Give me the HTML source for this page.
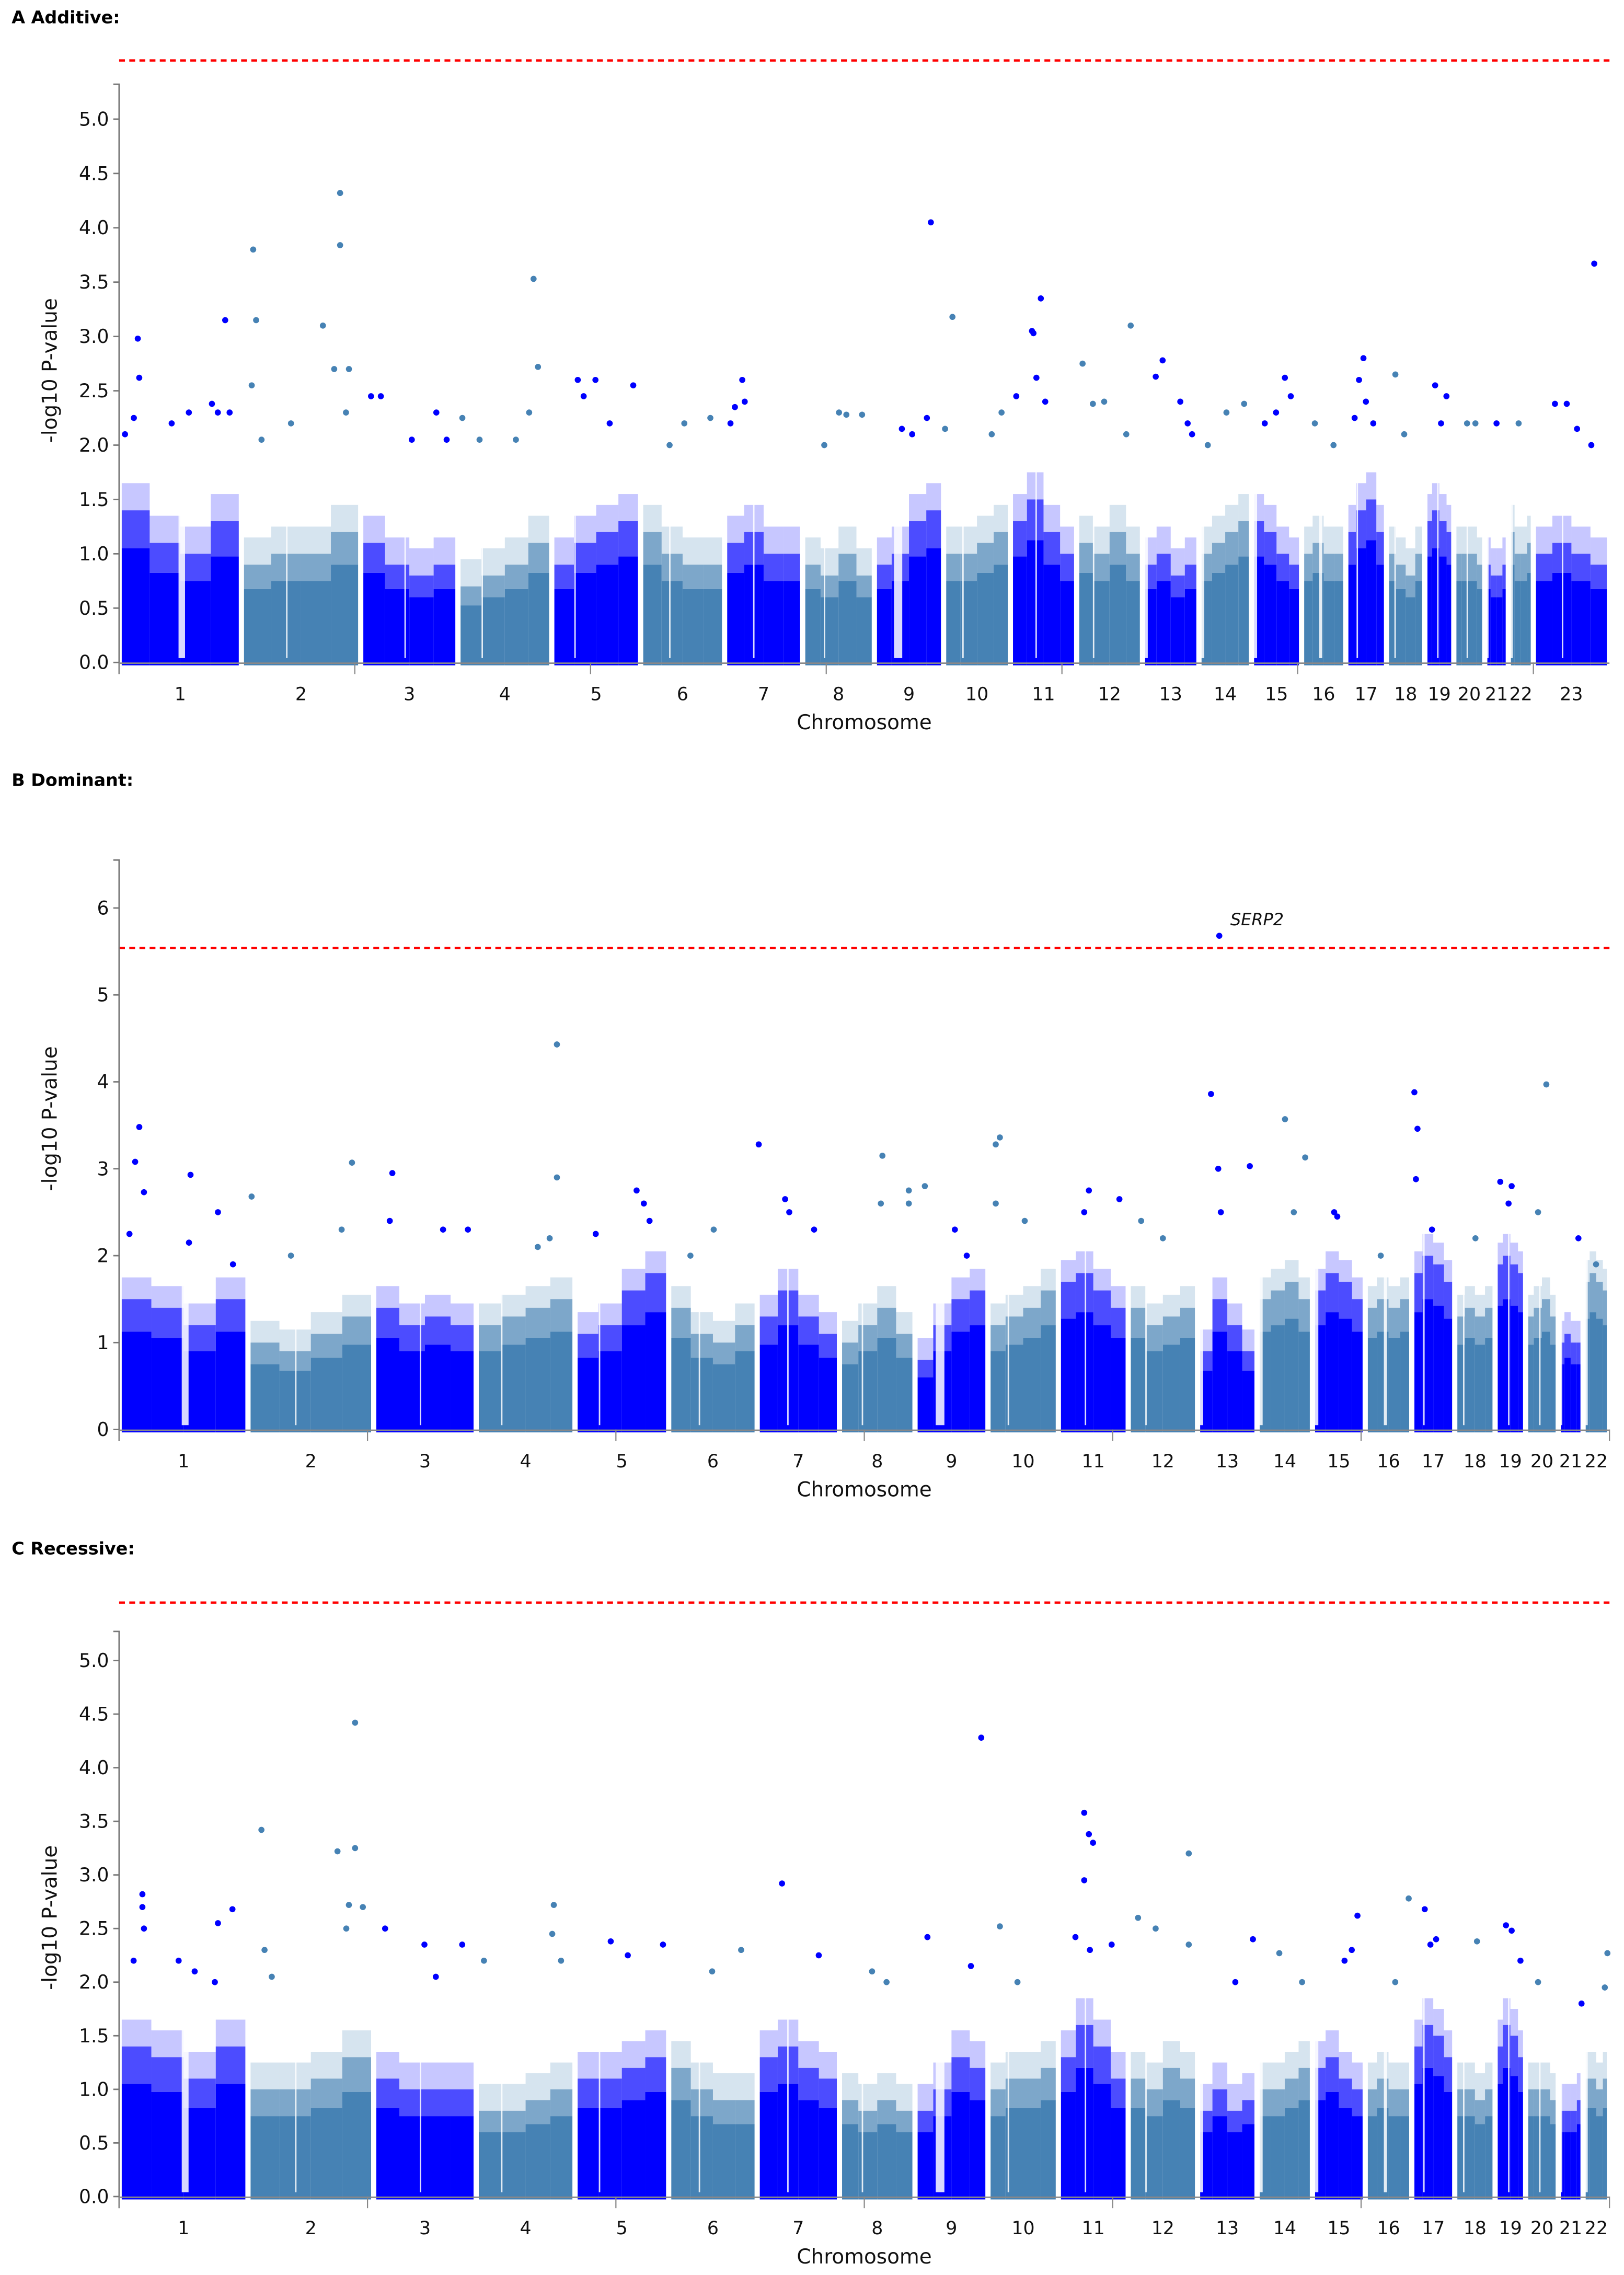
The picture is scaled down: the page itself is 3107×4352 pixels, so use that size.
<!DOCTYPE html>
<html><head><meta charset="utf-8">
<style>
html,body{margin:0;padding:0;background:#fff;}
svg{display:block;}
text{font-family:"DejaVu Sans","Liberation Sans",sans-serif;}
</style></head>
<body>
<svg id="fig" xmlns="http://www.w3.org/2000/svg" width="3107" height="4352" viewBox="0 0 1118 1566">
<rect x="0" y="0" width="1118" height="1566" fill="#fff"/>
</svg>
<script>
// ---------- data ----------
const chromNames = ["1","2","3","4","5","6","7","8","9","10","11","12","13","14","15","16","17","18","19","20","21","22","23"];
const chromLengths = [249,243,198,191,181,171,159,146,141,136,135,134,115,107,102,90,83,78,59,63,48,51,155];
const chromGaps = [[121,143],[91,95],[89,93],[48,52],[46,50],[58,62],[58,62],[43,47],[40,68],[38,42],[51,55],[33,37],[0,18],[0,18],[0,19],[36,46],[22,26],[16,20],[25,29],[26,30],[0,13],[0,15],[58,62]];

const bandsA = [[1.4,1.1,1.0,1.3],[0.9,1.0,1.0,1.2],[1.1,0.9,0.8,0.9],[0.7,0.8,0.9,1.1],[0.9,1.1,1.2,1.3],[1.2,1.0,0.9,0.9],[1.1,1.2,1.0,1.0],[0.9,0.8,1.0,0.8],[0.9,1.0,1.3,1.4],[1.0,1.0,1.1,1.2],[1.3,1.5,1.2,1.0],[1.1,1.0,1.2,1.0],[0.9,1.0,0.8,0.9],[1.0,1.1,1.2,1.3],[1.3,1.2,1.0,0.9],[1.0,1.1,1.0,1.0],[1.2,1.4,1.5,1.2],[1.0,0.9,0.8,1.0],[1.3,1.4,1.3,1.2],[1.0,1.0,1.0,0.9],[0.9,0.8,0.8,0.9],[1.2,1.0,1.0,1.1],[1.0,1.1,1.0,0.9]];
const bandsB = [[1.5,1.4,1.2,1.5],[1.0,0.9,1.1,1.3],[1.4,1.2,1.3,1.2],[1.2,1.3,1.4,1.5],[1.1,1.2,1.6,1.8],[1.4,1.1,1.0,1.2],[1.3,1.6,1.3,1.1],[1.0,1.2,1.4,1.1],[0.8,1.2,1.5,1.6],[1.2,1.3,1.4,1.6],[1.7,1.8,1.6,1.4],[1.4,1.2,1.3,1.4],[0.9,1.5,1.2,0.9],[1.5,1.6,1.7,1.5],[1.6,1.8,1.7,1.5],[1.4,1.5,1.4,1.5],[1.8,2.0,1.9,1.7],[1.3,1.4,1.3,1.4],[1.9,2.0,1.9,1.8],[1.3,1.4,1.5,1.3],[1.0,1.1,1.0,1.0],[1.7,1.8,1.7,1.6]];
const bandsC = [[1.4,1.3,1.1,1.4],[1.0,1.0,1.1,1.3],[1.1,1.0,1.0,1.0],[0.8,0.8,0.9,1.0],[1.1,1.1,1.2,1.3],[1.2,1.0,0.9,0.9],[1.3,1.4,1.2,1.1],[0.9,0.8,0.9,0.8],[0.8,1.0,1.3,1.2],[1.0,1.1,1.1,1.2],[1.3,1.6,1.4,1.1],[1.1,1.0,1.2,1.1],[0.8,1.0,0.8,0.9],[1.0,1.0,1.1,1.2],[1.2,1.3,1.1,1.0],[1.0,1.1,1.0,1.0],[1.4,1.6,1.5,1.3],[1.0,1.0,0.9,1.0],[1.4,1.6,1.5,1.3],[1.0,1.0,1.0,0.9],[0.8,0.8,0.8,0.9],[1.1,1.1,1.0,1.1]];

// hits: [chromosome index (0-based), position Mb, -log10 p]
const hitsA = [[0,38,2.98],[0,41,2.62],[0,30,2.25],[0,12,2.1],[0,107,2.2],[0,142,2.3],[0,189,2.38],[0,201,2.3],[0,216,3.15],[0,225,2.3],
[1,24,3.8],[1,30,3.15],[1,21,2.55],[1,41,2.05],[1,101,2.2],[1,166,3.1],[1,189,2.7],[1,201,4.32],[1,201,3.84],[1,213,2.3],[1,219,2.7],
[2,21,2.45],[2,41,2.45],[2,104,2.05],[2,154,2.3],[2,175,2.05],
[3,9,2.25],[3,44,2.05],[3,118,2.05],[3,145,2.3],[3,154,3.53],[3,163,2.72],
[4,53,2.6],[4,65,2.45],[4,89,2.6],[4,118,2.2],[4,166,2.55],
[5,59,2.0],[5,89,2.2],[5,142,2.25],
[6,12,2.2],[6,21,2.35],[6,36,2.6],[6,41,2.4],
[7,44,2.0],[7,74,2.3],[7,89,2.28],[7,121,2.28],
[8,56,2.15],[8,77,2.1],[8,107,2.25],[8,115,4.05],
[9,3,2.15],[9,18,3.18],[9,98,2.1],[9,118,2.3],
[10,12,2.45],[10,44,3.05],[10,47,3.03],[10,53,2.62],[10,62,3.35],[10,71,2.4],
[11,12,2.75],[11,33,2.38],[11,56,2.4],[11,101,2.1],[11,110,3.1],
[12,27,2.63],[12,41,2.78],[12,77,2.4],[12,92,2.2],[12,101,2.1],
[13,18,2.0],[13,56,2.3],[13,92,2.38],
[14,27,2.2],[14,50,2.3],[14,68,2.62],[14,80,2.45],
[15,27,2.2],[15,65,2.0],
[16,18,2.25],[16,27,2.6],[16,36,2.8],[16,41,2.4],[16,56,2.2],
[17,18,2.65],[17,36,2.1],
[18,21,2.55],[18,33,2.2],[18,44,2.45],
[19,27,2.2],[19,44,2.2],[20,24,2.2],[21,21,2.2],
[22,44,2.38],[22,68,2.38],[22,89,2.15],[22,118,2.0],[22,124,3.67]];
const hitsB = [[0,39,3.48],[0,31,3.08],[0,48,2.73],[0,20,2.25],[0,138,2.93],[0,191,2.5],[0,135,2.15],[0,220,1.9],
[1,7,2.68],[1,201,3.07],[1,181,2.3],[1,83,2.0],
[2,36,2.95],[2,31,2.4],[2,134,2.3],[2,182,2.3],
[3,156,4.43],[3,156,2.9],[3,142,2.2],[3,119,2.1],
[4,119,2.75],[4,133,2.6],[4,144,2.4],[4,40,2.25],
[5,87,2.3],[5,42,2.0],
[6,3,3.28],[6,54,2.65],[6,62,2.5],[6,110,2.3],
[7,83,3.15],[7,80,2.6],[7,134,2.75],[7,134,2.6],[7,165,2.8],
[8,77,2.3],[8,100,2.0],
[9,15,3.28],[9,23,3.36],[9,15,2.6],[9,71,2.4],
[10,59,2.75],[10,50,2.5],[10,118,2.65],
[11,25,2.4],[11,67,2.2],
[12,26,3.86],[12,42,5.68],[12,40,3.0],[12,45,2.5],[12,101,3.03],
[13,54,3.57],[13,93,3.13],[13,71,2.5],
[14,42,2.5],[14,48,2.45],
[15,30,2.0],
[16,5,3.88],[16,11,3.46],[16,8,2.88],[16,39,2.3],
[17,40,2.2],
[18,10,2.85],[18,32,2.8],[18,26,2.6],
[19,40,3.97],[19,24,2.5],
[20,39,2.2],[21,25,1.9]];
const hitsC = [[0,45,2.82],[0,45,2.7],[0,48,2.5],[0,28,2.2],[0,115,2.2],[0,146,2.1],[0,191,2.55],[0,219,2.68],[0,185,2.0],
[1,26,3.42],[1,32,2.3],[1,46,2.05],[1,173,3.22],[1,207,4.42],[1,207,3.25],[1,195,2.72],[1,190,2.5],[1,222,2.7],
[2,22,2.5],[2,98,2.35],[2,171,2.35],[2,120,2.05],
[3,15,2.2],[3,150,2.72],[3,147,2.45],[3,164,2.2],
[4,69,2.38],[4,102,2.25],[4,170,2.35],
[5,140,2.3],[5,84,2.1],
[6,48,2.92],[6,119,2.25],
[7,63,2.1],[7,91,2.0],
[8,24,2.42],[8,128,4.28],[8,108,2.15],
[9,23,2.52],[9,57,2.0],
[10,50,3.58],[10,59,3.38],[10,67,3.3],[10,50,2.95],[10,33,2.42],[10,61,2.3],[10,103,2.35],
[11,19,2.6],[11,53,2.5],[11,117,3.2],[11,117,2.35],
[12,107,2.4],[12,73,2.0],
[13,43,2.27],[13,87,2.0],
[14,87,2.62],[14,76,2.3],[14,62,2.2],
[15,84,2.78],[15,58,2.0],
[16,25,2.68],[16,47,2.4],[16,36,2.35],
[17,43,2.38],
[18,21,2.53],[18,32,2.48],[18,49,2.2],
[19,24,2.0],[20,45,1.8],[21,47,2.27],[21,42,1.95]];

const ticksA = [0,0.5,1,1.5,2,2.5,3,3.5,4,4.5,5];
const ticksB = [0,1,2,3,4,5,6];
const ticksC = [0,0.5,1,1.5,2,2.5,3,3.5,4,4.5,5];
const xMinorTicksMb = [0,480,960,1440,1920,2400,2880];
const thresholdValue = 5.54;

// ---------- drawing ----------
const NS = "http://www.w3.org/2000/svg";
const svg = document.getElementById("fig");
function mk(tag, attrs, parent){
  const e = document.createElementNS(NS, tag);
  for (const k in attrs) e.setAttribute(k, attrs[k]);
  (parent||svg).appendChild(e);
  return e;
}
const panels = [
  {key:"additive", letter:"A", title:"Additive:", titleY:16, y0:456, unit:74.8, axisTop:58, nChr:23, bands:bandsA, hits:hitsA, ticks:ticksA, dec:1, labY:482, chrTitleY:502, yTitleY:255, x0:82, x1:1108},
  {key:"dominant", letter:"B", title:"Dominant:", titleY:541, y0:984, unit:59.83, axisTop:592, nChr:22, bands:bandsB, hits:hitsB, ticks:ticksB, dec:0, labY:1010, chrTitleY:1030, yTitleY:770, x0:82, x1:1108},
  {key:"recessive", letter:"C", title:"Recessive:", titleY:1070, y0:1512, unit:73.8, axisTop:1123, nChr:22, bands:bandsC, hits:hitsC, ticks:ticksC, dec:1, labY:1538, chrTitleY:1558, yTitleY:1320, x0:82, x1:1108}
];
const BLUE = "#0000ff", STEEL = "#4682b4";

panels.forEach(p => {
  const g = mk("g", {});
  
  
  const lens = chromLengths.slice(0, p.nChr);
  const total = lens.reduce((a,b)=>a+b,0);
  const starts = []; let c = 0; lens.forEach(l => { starts.push(c); c += l; });
  const xs = mb => p.x0 + (mb / total) * (p.x1 - p.x0);
  const ys = v => p.y0 - v * p.unit;

  const t = mk("text", {x:8, y:p.titleY, "font-size":12, "font-weight":"bold", fill:"#000"}, g);
  t.textContent = p.letter + "   " + p.title;
  
  

  // dense bands
  for (let i = 0; i < p.nChr; i++) {
    const col = (i % 2 === 0) ? BLUE : STEEL;
    const cg = mk("g", {fill: col}, g);
    
    
    const seg = lens[i] / 4;
    for (let s = 0; s < 4; s++) {
      const a = starts[i] + seg * s, b = a + seg;
      let xa = xs(a), xb = xs(b);
      if (s === 0) xa += 1.8;
      if (s === 3) xb -= 1.8;
      const v = p.bands[i][s];
      const w = Math.max(0, xb - xa);
      const halo = mk("rect", {x:xa, y:ys(v + 0.25), width:w, height:0.25*p.unit, opacity:0.22}, cg);
      
      
      const mid = mk("rect", {x:xa, y:ys(v), width:w, height:0.25*v*p.unit, opacity:0.7}, cg);
      
      
      const top = ys(v * 0.75);
      const r = mk("rect", {x:xa, y:top, width:w, height:p.y0 + 2 - top}, cg);
      
      
    }
    const gap = chromGaps[i];
    const gx = xs(starts[i] + gap[0]), gw = xs(starts[i] + gap[1]) - gx;
    const gr = mk("rect", {x:gx, y:ys(3), width:Math.max(1, gw*0.6), height:3*p.unit - 3, fill:"#fff", opacity:0.85}, cg);
    
    
  }
  // hits
  p.hits.forEach(h => {
    const col = (h[0] % 2 === 0) ? BLUE : STEEL;
    const cx = xs(starts[h[0]] + h[1]);
    const d = mk("circle", {cx:cx, cy:ys(h[2]), r:2.1, fill:col}, g);
    
    
  });

  // threshold
  const th = mk("line", {x1:p.x0, x2:p.x1, y1:ys(thresholdValue), y2:ys(thresholdValue), stroke:"#ff0000", "stroke-width":1.6, "stroke-dasharray":"4 3"}, g);
  
  

  // axes
  const ya = mk("path", {d:`M${p.x0-4},${p.axisTop} H${p.x0} V${p.y0+8}`, fill:"none", stroke:"#777", "stroke-width":1}, g);
  
  
  const xa = mk("line", {x1:p.x0, x2:p.x1, y1:p.y0+0.5, y2:p.y0+0.5, stroke:"#888", "stroke-width":1}, g);
  
  
  xMinorTicksMb.forEach(m => {
    if (m > total) return;
    const mt = mk("line", {x1:xs(m), x2:xs(m), y1:p.y0, y2:p.y0+8, stroke:"#888", "stroke-width":0.8}, g);
    
    
  });
  p.ticks.forEach(v => {
    const tk = mk("line", {x1:p.x0-4, x2:p.x0, y1:ys(v), y2:ys(v), stroke:"#777", "stroke-width":1}, g);
    
    
    const tl = mk("text", {x:p.x0-7, y:ys(v)+4.5, "font-size":13, "text-anchor":"end", fill:"#111"}, g);
    tl.textContent = v.toFixed(p.dec);
    
    
  });
  for (let i = 0; i < p.nChr; i++) {
    const cl = mk("text", {x:xs(starts[i] + lens[i]/2), y:p.labY, "font-size":12.5, "text-anchor":"middle", fill:"#111"}, g);
    cl.textContent = chromNames[i];
    
    
  }
  const xt = mk("text", {x:595, y:p.chrTitleY, "font-size":14, "text-anchor":"middle", fill:"#111"}, g);
  xt.textContent = "Chromosome";
  
  
  const yt = mk("text", {x:0, y:0, "font-size":14, "text-anchor":"middle", fill:"#111", transform:`translate(39,${p.yTitleY}) rotate(-90)`}, g);
  yt.textContent = "-log10 P-value";
  
  
});

const serp = mk("text", {x:847, y:637, "font-size":11.5, "font-style":"italic", fill:"#111"});
serp.textContent = "SERP2";


</script>
</body></html>
